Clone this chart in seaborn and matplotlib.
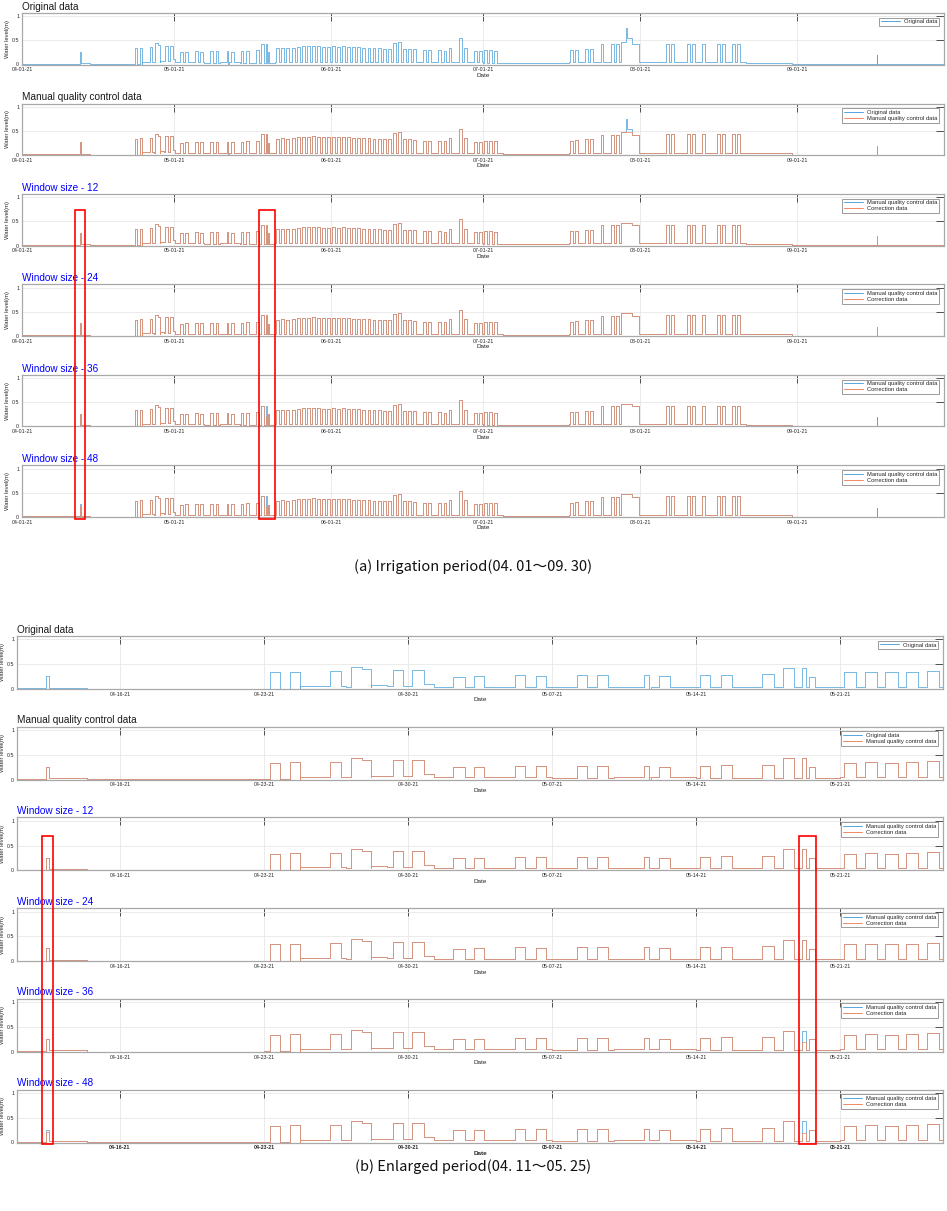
import numpy as np
import pandas as pd
import matplotlib
matplotlib.use("Agg")
import matplotlib.pyplot as plt
import matplotlib.dates as mdates
from matplotlib.patches import Rectangle
from matplotlib.lines import Line2D
import seaborn as sns

# ----------------------------------------------------------------- data
YEAR = "2021-"
# baseline water level (step function: start time, level)
BASE_START = ["04-01 00:00", "04-12 13:40", "04-14 10:00", "04-23 00:00", "04-24 18:00",
              "04-27 00:00", "04-28 05:00", "04-29 00:00", "04-30 18:10", "05-01 06:00",
              "05-07 00:00", "05-10 00:00", "05-14 00:00", "05-21 00:00", "07-01 00:00",
              "07-05 00:00", "07-18 00:00", "08-22 00:00", "08-31 00:00"]
BASE_LEVEL = [0.012, 0.03, 0.005, 0.008, 0.06,
              0.05, 0.08, 0.07, 0.11, 0.05,
              0.04, 0.05, 0.04, 0.05, 0.04,
              0.03, 0.05, 0.04, 0.01]

# irrigation events (start, end, level)
EV_START = ["04-12 09:36", "04-23 06:40", "04-24 06:00", "04-26 04:50", "04-27 06:00",
            "04-27 18:40", "04-29 06:30", "04-30 04:50", "05-02 04:50", "05-03 04:50",
            "05-05 04:50", "05-06 04:50", "05-08 04:50", "05-09 04:50", "05-11 10:50",
            "05-12 04:50", "05-14 04:50", "05-15 04:50", "05-17 04:50", "05-18 05:30",
            "05-19 04:00", "05-19 12:00", "05-21 04:50", "05-22 04:50", "05-23 04:50",
            "05-24 04:50", "05-25 04:50", "05-26 05:00", "05-27 05:00", "05-28 05:00",
            "05-29 05:00", "05-30 05:00", "05-31 05:00", "06-01 05:00", "06-02 05:00",
            "06-03 05:00", "06-04 05:00", "06-05 05:00", "06-06 05:00", "06-07 05:00",
            "06-08 05:00", "06-09 05:00", "06-10 05:00", "06-11 05:00", "06-12 05:00",
            "06-13 05:00", "06-14 05:00", "06-15 05:00", "06-16 05:00", "06-17 05:00",
            "06-19 05:00", "06-20 05:00", "06-22 05:00", "06-23 05:00", "06-24 05:00",
            "06-26 05:00", "06-27 05:00", "06-29 05:00", "06-30 05:00", "07-01 05:00",
            "07-02 05:00", "07-03 05:00", "07-18 05:00", "07-19 05:00", "07-21 05:00",
            "07-22 05:00", "07-24 05:00", "07-26 05:00", "07-27 05:00", "07-28 05:00",
            "07-30 12:00", "08-06 05:00", "08-07 05:00", "08-10 05:00", "08-11 05:00",
            "08-13 05:00", "08-16 05:00", "08-17 05:00", "08-19 05:00", "08-20 05:00",
            "09-16 17:00"]
EV_END = ["04-12 13:40", "04-23 18:30", "04-24 17:50", "04-26 18:10", "04-27 18:40",
          "04-28 04:50", "04-29 18:00", "04-30 18:10", "05-02 18:00", "05-03 16:50",
          "05-05 16:50", "05-06 16:50", "05-08 16:50", "05-09 16:50", "05-11 16:50",
          "05-12 18:00", "05-14 16:50", "05-15 18:00", "05-17 19:10", "05-18 18:30",
          "05-19 08:00", "05-19 19:10", "05-21 18:00", "05-22 18:30", "05-23 19:10",
          "05-24 19:10", "05-25 19:10", "05-26 18:30", "05-27 18:30", "05-28 18:30",
          "05-29 18:30", "05-30 18:30", "05-31 18:30", "06-01 18:30", "06-02 18:30",
          "06-03 18:30", "06-04 18:30", "06-05 18:30", "06-06 18:30", "06-07 18:30",
          "06-08 18:30", "06-09 18:30", "06-10 18:30", "06-11 18:30", "06-12 18:30",
          "06-13 18:30", "06-14 18:30", "06-15 18:30", "06-16 18:30", "06-17 18:30",
          "06-19 18:30", "06-20 18:30", "06-22 18:30", "06-23 18:30", "06-24 18:30",
          "06-26 18:30", "06-27 18:30", "06-29 18:30", "06-30 18:30", "07-01 18:30",
          "07-02 18:30", "07-03 18:30", "07-18 18:30", "07-19 18:30", "07-21 18:30",
          "07-22 18:30", "07-24 18:30", "07-26 18:30", "07-27 18:30", "07-30 12:00",
          "07-31 19:00", "08-06 18:30", "08-07 18:30", "08-10 18:30", "08-11 18:30",
          "08-13 18:30", "08-16 18:30", "08-17 18:30", "08-19 18:30", "08-20 18:30",
          "09-16 20:00"]
EV_LEVEL = [0.26, 0.34, 0.35, 0.36, 0.44,
            0.40, 0.39, 0.39, 0.25, 0.26,
            0.28, 0.27, 0.28, 0.28, 0.28,
            0.26, 0.28, 0.29, 0.30, 0.43,
            0.43, 0.25, 0.34, 0.35, 0.34,
            0.35, 0.37, 0.38, 0.38, 0.39,
            0.38, 0.37, 0.37, 0.38, 0.37,
            0.38, 0.37, 0.36, 0.36, 0.35,
            0.35, 0.34, 0.34, 0.33, 0.33,
            0.45, 0.47, 0.33, 0.33, 0.32,
            0.30, 0.30, 0.30, 0.29, 0.35,
            0.55, 0.35, 0.28, 0.28, 0.30,
            0.30, 0.29, 0.30, 0.31, 0.33,
            0.33, 0.42, 0.42, 0.42, 0.47,
            0.42, 0.43, 0.43, 0.43, 0.43,
            0.43, 0.43, 0.43, 0.43, 0.43,
            0.19]

# sensor faults present only in the original record
FAULT_START = ["05-11 16:50", "07-29 05:00", "07-29 12:00"]
FAULT_END = ["05-11 19:00", "07-29 12:00", "07-30 12:00"]
FAULT_LEVEL = [-0.02, 0.75, 0.55]

# differences of the corrected series from the manual QC series
FIX_WINDOW = [48, 36, 48, 36, 48]
FIX_START = ["04-12 09:36", "05-19 04:00", "05-19 04:00", "09-16 17:00", "09-16 17:00"]
FIX_END = ["04-12 13:40", "05-19 08:00", "05-19 08:00", "09-16 20:00", "09-16 20:00"]
FIX_LEVEL = [0.22, 0.20, 0.20, 0.01, 0.01]

WINDOWS = [12, 24, 36, 48]
TITLES = ["Original data", "Manual quality control data"] + [f"Window size - {w}" for w in WINDOWS]

RANGE_A = ["04-01 00:00", "09-30 00:00"]
RANGE_B = ["04-11 00:00", "05-26 00:00"]
TICKS_A = ["04-01", "05-01", "06-01", "07-01", "08-01", "09-01"]
TICKS_B = ["04-16", "04-23", "04-30", "05-07", "05-14", "05-21"]

# highlighted windows (red boxes)
BOX_A_START = ["04-11 11:00", "05-17 19:00"]
BOX_A_END = ["04-13 11:00", "05-20 21:00"]
BOX_B_START = ["04-12 05:30", "05-18 23:30"]
BOX_B_END = ["04-12 18:15", "05-19 20:00"]
BOX_TOP = [0.73, 0.69]
BOX_BOTTOM = -0.04

CAPTIONS = ["(a) Irrigation period(04. 01～09. 30)", "(b) Enlarged period(04. 11～05. 25)"]

# ----------------------------------------------------------------- helpers
def ts(s):
    return pd.Timestamp(YEAR + s)


def step_series(layers):
    starts = [ts(s) for s in BASE_START]
    pts = set(starts) | {ts("09-30 23:59")}
    for st, en, lv in layers:
        pts |= {ts(s) for s in st} | {ts(e) for e in en}
    pts = sorted(pts)
    vals = []
    for t in pts:
        v = BASE_LEVEL[0]
        for s, b in zip(starts, BASE_LEVEL):
            if s <= t:
                v = b
        for st, en, lv in layers:
            for s, e, l in zip(st, en, lv):
                if ts(s) <= t < ts(e):
                    v = l
        vals.append(v)
    return pd.DataFrame({"time": pts, "level": vals})


events = (EV_START, EV_END, EV_LEVEL)
faults = (FAULT_START, FAULT_END, FAULT_LEVEL)
original = step_series([events, faults])
manual = step_series([events])
corrected = {}
for w in WINDOWS:
    sel = [i for i, fw in enumerate(FIX_WINDOW) if fw == w]
    fix = ([FIX_START[i] for i in sel], [FIX_END[i] for i in sel], [FIX_LEVEL[i] for i in sel])
    corrected[w] = step_series([events, fix])

# ----------------------------------------------------------------- style
sns.set_theme(style="white")
plt.rcParams["font.family"] = ["Liberation Sans", "DejaVu Sans"]
BLUE = "#55a6dd"
ORANGE = "#ef8a64"
LW = 0.55

fig = plt.figure(figsize=(9.47, 12.11), dpi=100)
W, H = 947.0, 1211.0

def make_axes(left, right, top, height):
    return fig.add_axes([left / W, 1 - (top + height) / H, (right - left) / W, height / H])

TOPS_A = [13, 103.5, 194, 284.5, 375, 465.5]
TOPS_B = [636, 726.7, 817.4, 908.1, 998.8, 1089.5]

def draw_panel(ax, idx, rng, ticks, bold=False):
    if idx == 0:
        pairs = [(original, BLUE, "Original data")]
    elif idx == 1:
        pairs = [(original, BLUE, "Original data"), (manual, ORANGE, "Manual quality control data")]
    else:
        w = WINDOWS[idx - 2]
        pairs = [(manual, BLUE, "Manual quality control data"), (corrected[w], ORANGE, "Correction data")]
    handles = []
    for df, col, lab in pairs:
        sns.lineplot(data=df, x="time", y="level", ax=ax, color=col, linewidth=LW,
                     drawstyle="steps-post", estimator=None, sort=False, legend=False)
        handles.append(Line2D([], [], color=col, lw=0.7, label=lab))
    ax.set_xlim(ts(rng[0]), ts(rng[1]))
    ax.set_ylim(0, 1.07)
    ax.set_yticks([0, 0.5, 1])
    ax.set_yticklabels(["0", "0.5", "1"])
    ax.set_xticks([ts(t + " 00:00") for t in ticks])
    ax.xaxis.set_major_formatter(mdates.DateFormatter("%m-%d-%y"))
    ax.grid(True, color="#e8e8e8", lw=0.6)
    ax.tick_params(direction="in", length=5.5, width=0.7, color="#505050",
                   top=True, right=True, labelsize=3.8, pad=2, labelcolor="#262626")
    for sp in ax.spines.values():
        sp.set_color("#a8a8a8")
        sp.set_linewidth(0.9)
    fw = "bold" if bold else "normal"
    ax.set_xlabel("Date", fontsize=4.6, labelpad=0.5, fontweight=fw, color="#262626")
    ax.set_ylabel("Water level(m)", fontsize=4.2, labelpad=1.5, color="#262626")
    if bold:
        for lab in ax.get_xticklabels():
            lab.set_fontweight("bold")
    ax.set_title(TITLES[idx], loc="left", fontsize=7.2, pad=2.5,
                 color="#0000ff" if idx >= 2 else "#1a1a1a")
    leg = ax.legend(handles=handles, loc="upper right", fontsize=4.2, handlelength=3.2,
                    borderpad=0.3, labelspacing=0.15, borderaxespad=0.8, fancybox=False,
                    framealpha=1, edgecolor="#8a8a8a")
    leg.get_frame().set_linewidth(0.6)

axes_a = []
for i, top in enumerate(TOPS_A):
    ax = make_axes(22, 944, top, 51.5)
    draw_panel(ax, i, RANGE_A, TICKS_A)
    axes_a.append(ax)
axes_b = []
for i, top in enumerate(TOPS_B):
    ax = make_axes(17, 943, top, 53)
    draw_panel(ax, i, RANGE_B, TICKS_B, bold=(i == 5))
    axes_b.append(ax)

# red highlight boxes spanning the window-size panels
inv = fig.transFigure.inverted()
for axes, starts, ends, top in [(axes_a, BOX_A_START, BOX_A_END, BOX_TOP[0]),
                                (axes_b, BOX_B_START, BOX_B_END, BOX_TOP[1])]:
    for s, e in zip(starts, ends):
        p0 = inv.transform(axes[2].transData.transform((mdates.date2num(ts(s)), top)))
        p1 = inv.transform(axes[5].transData.transform((mdates.date2num(ts(e)), BOX_BOTTOM)))
        fig.patches.append(Rectangle((p0[0], p1[1]), p1[0] - p0[0], p0[1] - p1[1],
                                     transform=fig.transFigure, fill=False,
                                     edgecolor="#ff0000", lw=1.2, zorder=10))

cap_font = ["Noto Sans CJK KR", "DejaVu Sans"]
fig.text(473 / W, 1 - 567 / H, CAPTIONS[0], ha="center", va="center", fontsize=10.5,
         family=cap_font, color="#111111")
fig.text(473 / W, 1 - 1167 / H, CAPTIONS[1], ha="center", va="center", fontsize=10.5,
         family=cap_font, color="#111111")

fig.savefig("out.png", dpi=100, facecolor="white")
